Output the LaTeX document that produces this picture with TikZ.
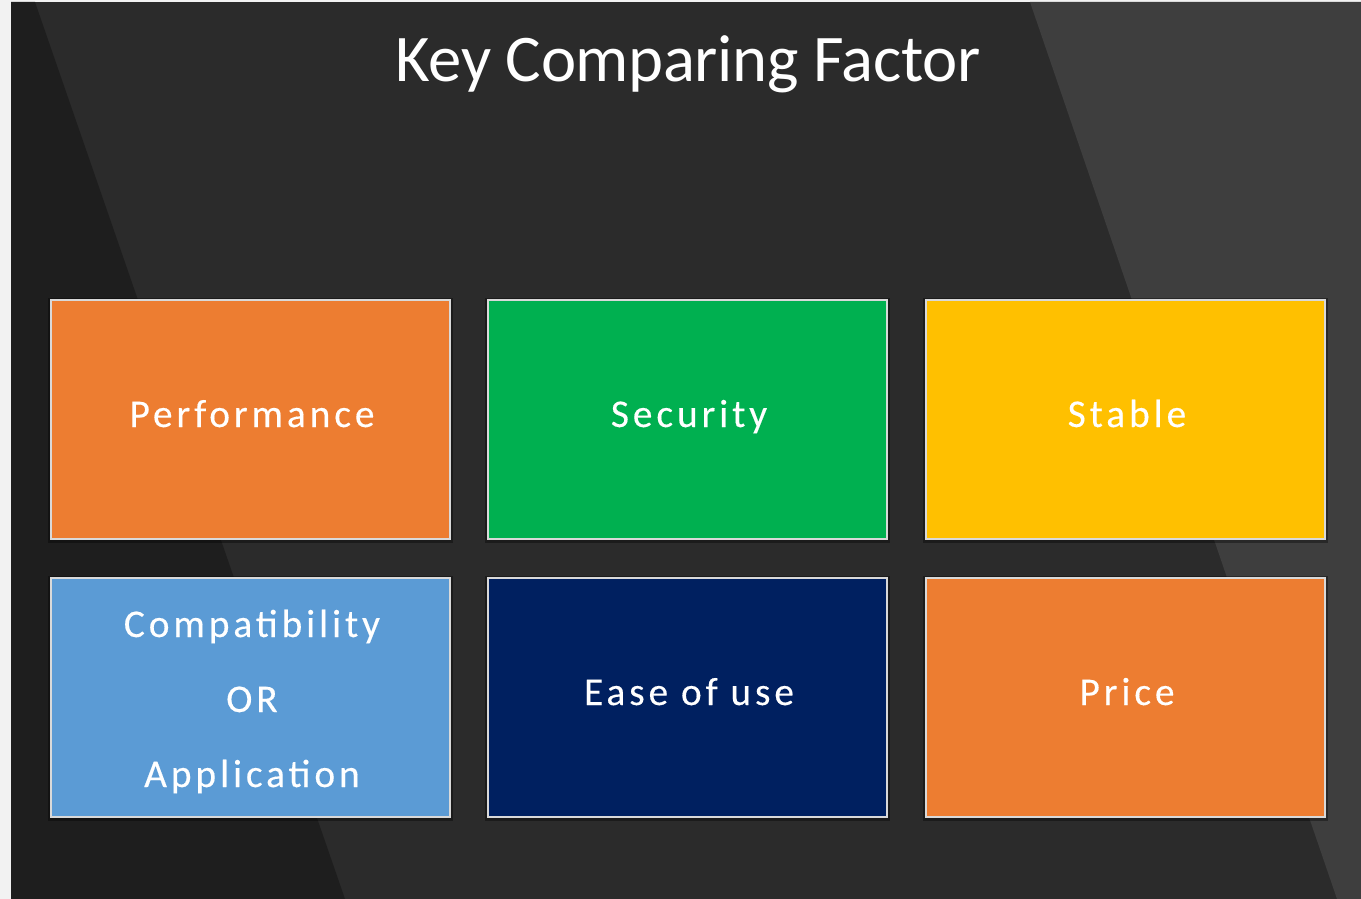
\documentclass[tikz,border=0pt]{standalone}
\usepackage{fontspec}
\setmainfont{Carlito}
\definecolor{bgmid}{HTML}{2B2B2B}
\definecolor{bgdark}{HTML}{1E1E1E}
\definecolor{bglight}{HTML}{3E3E3E}
\definecolor{strip}{HTML}{F2F2F2}
\definecolor{corange}{HTML}{ED7D31}
\definecolor{cgreen}{HTML}{00B050}
\definecolor{cyellow}{HTML}{FFC000}
\definecolor{cblue}{HTML}{5B9BD5}
\definecolor{cnavy}{HTML}{002060}
\definecolor{cborder}{HTML}{D9D9D9}
\tikzset{
  factor/.style={draw=cborder, line width=1.5pt, minimum width=299.25pt, minimum height=179.25pt,
    inner sep=0pt},
  ftext/.style={anchor=base, inner sep=0pt, text=white, align=center,
    font=\fontsize{29.5}{56.25}\selectfont\addfontfeature{LetterSpace=10,FakeBold=0.3}},
  shadowbox/.style={fill=black, opacity=0.35}
}
\begin{document}
\begin{tikzpicture}[x=0.75pt,y=-0.75pt]
\useasboundingbox (0,0) rectangle (1361,899);
\fill[strip] (0,0) rectangle (1361,899);
\fill[bgmid] (11,2) rectangle (1361,899);
\fill[bgdark] (11,2) -- (35,2) -- (345,899) -- (11,899) -- cycle;
\fill[bglight] (1030,2) -- (1361,2) -- (1361,899) -- (1337,899) -- cycle;
\node[anchor=base, text=white, inner sep=0pt, font=\fontsize{50}{60}\selectfont\addfontfeature{LetterSpace=-0.6}] (title) at (688,82) {Key Comparing Factor};
% shadows
\foreach \x/\y in {51/300,488/300,926/300,51/578,488/578,926/578}{
  \fill[shadowbox] (\x-3,\y-2) rectangle (\x+402,\y+243);
}
\node[factor, fill=corange] (perf) at (250.5,419.5) {};
\node[factor, fill=cgreen] (sec) at (687.5,419.5) {};
\node[factor, fill=cyellow] (stab) at (1125.5,419.5) {};
\node[factor, fill=cblue] (comp) at (250.5,697.5) {};
\node[factor, fill=cnavy] (ease) at (687.5,697.5) {};
\node[factor, fill=corange] (price) at (1125.5,697.5) {};
\node[ftext] (perft) at (252,427) {Performance};
\node[ftext] (sect) at (689,427) {Security};
\node[ftext] (stabt) at (1127,427) {Stable};
\node[ftext] (compt) at (252,787) {Compatibility\\OR\\Application};
\node[ftext] (easet) at (689,705) {Ease of use};
\node[ftext] (pricet) at (1127,705) {Price};
\end{tikzpicture}
\end{document}
